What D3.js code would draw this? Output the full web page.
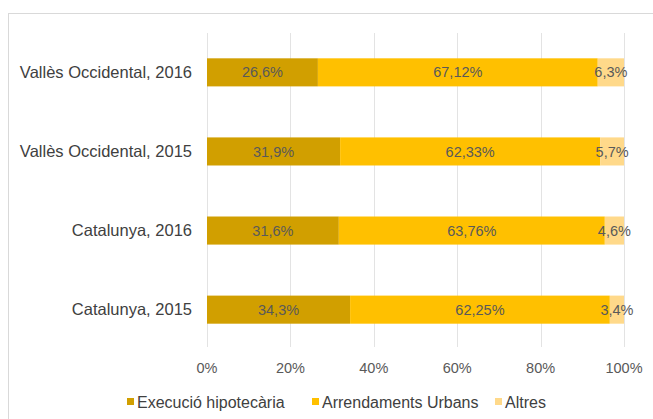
<!DOCTYPE html>
<html>
<head>
<meta charset="utf-8">
<script src="https://cdn.jsdelivr.net/npm/d3@7"></script>
<style>
body{margin:0;background:#fff;font-family:"Liberation Sans",Arial,sans-serif;}
</style>
</head>
<body>
<script>
var categories = ["Vallès Occidental, 2016", "Vallès Occidental, 2015", "Catalunya, 2016", "Catalunya, 2015"];
var series = ["Execució hipotecària", "Arrendaments Urbans", "Altres"];
var execucio = [26.6, 31.9, 31.6, 34.3];
var arrendaments = [67.12, 62.33, 63.76, 62.25];
var altres = [6.3, 5.7, 4.6, 3.4];
var labels = [
    ["26,6%", "67,12%", "6,3%"],
    ["31,9%", "62,33%", "5,7%"],
    ["31,6%", "63,76%", "4,6%"],
    ["34,3%", "62,25%", "3,4%"]
];
var ticks = [0, 0.2, 0.4, 0.6, 0.8, 1];
var colors = ["#D19F00", "#FFC000", "#FFD98A"];

var width = 653, height = 419;

var svg = d3.select("body").append("svg")
    .attr("width", width)
    .attr("height", height);

// chart frame
svg.append("rect")
    .attr("x", 8.5).attr("y", 13.5)
    .attr("width", 660).attr("height", 420)
    .attr("fill", "none").attr("stroke", "#d9d9d9");

var x = d3.scaleLinear().domain([0, 1]).range([207, 624]);
var y = d3.scaleBand().domain(categories).range([33, 349]).paddingInner(0.645).paddingOuter(0.32);

// gridlines
svg.selectAll(".grid").data(ticks).enter().append("line")
    .attr("x1", function(d){ return Math.round(x(d)) + 0.5; })
    .attr("x2", function(d){ return Math.round(x(d)) + 0.5; })
    .attr("y1", 33).attr("y2", 347)
    .attr("stroke", "#e3e3e3");

// stack
var rows = categories.map(function(c, i){
    var vals = [execucio[i], arrendaments[i], altres[i]];
    var tot = vals[0] + vals[1] + vals[2];
    var acc = 0;
    return vals.map(function(v, j){
        var seg = {cat: c, j: j, x0: acc / tot, x1: (acc + v) / tot, label: labels[i][j]};
        acc += v;
        return seg;
    });
});
var segs = [].concat.apply([], rows);

svg.selectAll(".bar").data(segs).enter().append("rect")
    .attr("x", function(d){ return x(d.x0); })
    .attr("width", function(d){ return x(d.x1) - x(d.x0); })
    .attr("y", function(d){ return y(d.cat); })
    .attr("height", y.bandwidth())
    .attr("fill", function(d){ return colors[d.j]; });

svg.selectAll(".lbl").data(segs).enter().append("text")
    .attr("x", function(d){ return (x(d.x0) + x(d.x1)) / 2; })
    .attr("y", function(d){ return y(d.cat) + y.bandwidth() / 2; })
    .attr("dy", "0.35em")
    .attr("text-anchor", "middle")
    .attr("font-size", 14.5)
    .attr("fill", "#595959")
    .text(function(d){ return d.label; });

// category labels
svg.selectAll(".cat").data(categories).enter().append("text")
    .attr("x", 192)
    .attr("y", function(d){ return y(d) + y.bandwidth() / 2; })
    .attr("dy", "0.35em")
    .attr("text-anchor", "end")
    .attr("font-size", 16.5)
    .attr("fill", "#404040")
    .text(function(d){ return d; });

// x axis labels
svg.selectAll(".tick").data(ticks).enter().append("text")
    .attr("x", function(d){ return x(d); })
    .attr("y", 368)
    .attr("dy", "0.35em")
    .attr("text-anchor", "middle")
    .attr("font-size", 14.5)
    .attr("fill", "#595959")
    .text(function(d){ return Math.round(d * 100) + "%"; });

// legend
var legX = [127, 312, 495];
var leg = svg.selectAll(".leg").data(series).enter().append("g")
    .attr("transform", function(d, i){ return "translate(" + legX[i] + ",402)"; });
leg.append("rect").attr("x", 0).attr("y", -4).attr("width", 7).attr("height", 7)
    .attr("fill", function(d, i){ return colors[i]; });
leg.append("text").attr("x", 10).attr("dy", "0.35em")
    .attr("font-size", 16).attr("fill", "#404040")
    .text(function(d){ return d; });
</script>
</body>
</html>
